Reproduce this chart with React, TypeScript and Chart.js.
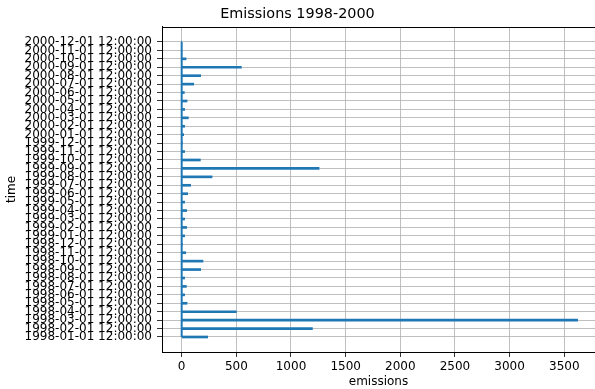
import React, { useEffect, useRef } from 'react';
import { Chart, registerables } from 'chart.js';

Chart.register(...registerables);

const categories = [
  '1998-01-01 12:00:00', '1998-02-01 12:00:00', '1998-03-01 12:00:00', '1998-04-01 12:00:00',
  '1998-05-01 12:00:00', '1998-06-01 12:00:00', '1998-07-01 12:00:00', '1998-08-01 12:00:00',
  '1998-09-01 12:00:00', '1998-10-01 12:00:00', '1998-11-01 12:00:00', '1998-12-01 12:00:00',
  '1999-01-01 12:00:00', '1999-02-01 12:00:00', '1999-03-01 12:00:00', '1999-04-01 12:00:00',
  '1999-05-01 12:00:00', '1999-06-01 12:00:00', '1999-07-01 12:00:00', '1999-08-01 12:00:00',
  '1999-09-01 12:00:00', '1999-10-01 12:00:00', '1999-11-01 12:00:00', '1999-12-01 12:00:00',
  '2000-01-01 12:00:00', '2000-02-01 12:00:00', '2000-03-01 12:00:00', '2000-04-01 12:00:00',
  '2000-05-01 12:00:00', '2000-06-01 12:00:00', '2000-07-01 12:00:00', '2000-08-01 12:00:00',
  '2000-09-01 12:00:00', '2000-10-01 12:00:00', '2000-11-01 12:00:00', '2000-12-01 12:00:00',
];

const emissions = [
  238, 1196, 3622, 500, 49, 27, 43, 27, 174, 195, 37, 6,
  27, 46, 27, 46, 27, 55, 82, 278, 1257, 171, 27, 6,
  18, 27, 61, 27, 49, 24, 110, 174, 546, 40, 0, 0,
];

const xTicks = [0, 500, 1000, 1500, 2000, 2500, 3000, 3500];
const xMin = -180;
const xMax = 3781;
const yMargin = 1.78;

const FONT = 'DejaVu Sans';

export default function App() {
  const ref = useRef<HTMLCanvasElement>(null);

  useEffect(() => {
    const canvas = ref.current;
    if (!canvas) return;

    const frame = {
      id: 'frame',
      afterDatasetsDraw(chart: any) {
        const { ctx, chartArea } = chart;
        ctx.save();
        ctx.strokeStyle = '#000';
        ctx.lineWidth = 1;
        ctx.beginPath();
        ctx.moveTo(chartArea.left, Math.round(chartArea.top) + 0.5);
        ctx.lineTo(chartArea.right, Math.round(chartArea.top) + 0.5);
        ctx.stroke();
        ctx.restore();
      },
    };

    const chart = new Chart(canvas, {
      type: 'bar',
      data: {
        datasets: [
          {
            type: 'bar',
            data: emissions.map((v, i) => ({ x: v, y: i })),
            backgroundColor: '#1f77b4',
            borderWidth: 0,
            barThickness: 2,
          } as any,
          {
            type: 'line',
            indexAxis: 'y',
            data: categories.map((_, i) => ({ x: 0, y: i })),
            borderColor: '#1f77b4',
            borderWidth: 2,
            pointRadius: 0,
            fill: false,
          } as any,
        ],
      },
      options: {
        indexAxis: 'y',
        animation: false,
        responsive: false,
        maintainAspectRatio: false,
        layout: { padding: { left: 0, right: 0, top: 0, bottom: 0 } },
        plugins: {
          legend: { display: false },
          tooltip: { enabled: false },
          title: {
            display: true,
            text: 'Emissions 1998-2000',
            color: '#000',
            font: { family: FONT, size: 14.4, weight: 'normal', lineHeight: 1.2 },
            padding: { top: 6, bottom: 3.7 },
          },
        },
        scales: {
          x: {
            type: 'linear',
            min: xMin,
            max: xMax,
            offset: false,
            afterBuildTicks: (scale: any) => {
              scale.ticks = xTicks.map((v) => ({ value: v }));
            },
            afterFit: (scale: any) => {
              scale.height = 37;
            },
            grid: {
              offset: false,
              color: '#b0b0b0',
              lineWidth: 0.8,
              tickColor: '#000',
              tickLength: 5,
              drawTicks: true,
            },
            border: { color: '#000', width: 1 },
            ticks: {
              color: '#000',
              font: { family: FONT, size: 12 },
              padding: 3,
              maxRotation: 0,
              autoSkip: false,
              callback: (v: any) => String(v),
            },
            title: {
              display: true,
              text: 'emissions',
              color: '#000',
              font: { family: FONT, size: 12, lineHeight: 1.2 },
              padding: { top: 0, bottom: 0 },
            },
          },
          y: {
            type: 'linear',
            min: -yMargin,
            max: categories.length - 1 + yMargin,
            offset: false,
            afterBuildTicks: (scale: any) => {
              scale.ticks = categories.map((_, i) => ({ value: i }));
            },
            afterFit: (scale: any) => {
              scale.width = 162;
            },
            grid: {
              offset: false,
              color: '#b0b0b0',
              lineWidth: 0.8,
              tickColor: '#000',
              tickLength: 5,
              drawTicks: true,
            },
            border: { color: '#000', width: 1 },
            ticks: {
              color: '#000',
              font: { family: FONT, size: 12 },
              padding: 5,
              autoSkip: false,
              callback: (v: any) => categories[Math.round(Number(v))] ?? '',
            },
            title: {
              display: true,
              text: 'time',
              color: '#000',
              font: { family: FONT, size: 12, lineHeight: 1.2 },
              padding: { top: 5, bottom: 0 },
            },
          },
        },
      },
      plugins: [frame],
    } as any);

    return () => chart.destroy();
  }, []);

  return (
    <div style={{ position: 'absolute', left: 0, top: 0, width: 595, height: 389, overflow: 'hidden', background: '#fff' }}>
      <canvas ref={ref} width={595} height={389} style={{ display: 'block', width: 595, height: 389 }} />
    </div>
  );
}
